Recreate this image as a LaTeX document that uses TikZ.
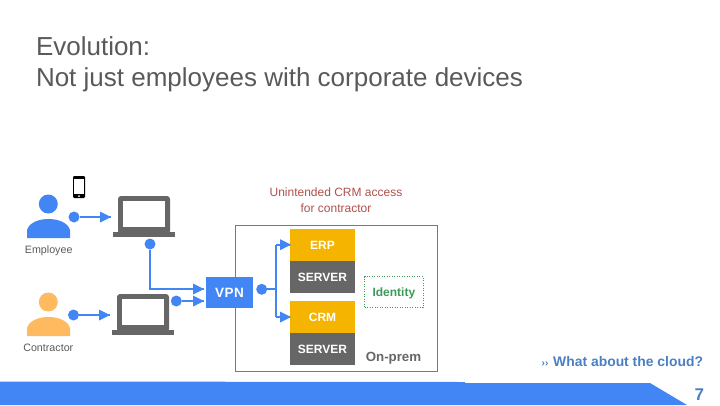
\documentclass[tikz,border=0pt]{standalone}
\usepackage{fontspec}
\setmainfont{Liberation Sans}
\definecolor{gblue}{HTML}{4285F4}
\definecolor{gdark}{HTML}{666666}
\definecolor{gyel}{HTML}{F4B400}
\definecolor{gorange}{HTML}{FFB95E}
\definecolor{ttl}{HTML}{595959}
\definecolor{boxl}{HTML}{4A82C4}
\definecolor{redt}{HTML}{B0504A}
\definecolor{gre}{HTML}{3B9B57}
\definecolor{lnk}{HTML}{4A7FC4}
\tikzset{
  x=1pt,y=-1pt,
  txt/.style={inner sep=0pt,outer sep=0pt,align=center},
  fsz/.style={font=\fontsize{#1}{#1}\selectfont},
  dot/.style={circle,fill=gblue,minimum size=11pt,inner sep=0pt,outer sep=0pt},
  conn/.style={draw=gblue,line width=2pt},
  block/.style={minimum width=65pt,minimum height=32pt,inner sep=0pt,outer sep=0pt,text=white,text height=8.6pt,text depth=0pt,font=\fontsize{12}{12}\selectfont\bfseries},
}
\newcommand{\person}[3]{%
  \fill[#3] (48.3,#1) circle (9.5);
  \fill[#3] (27,#2+19) -- (27,#2+11) .. controls (29,#2+4) and (38,#2) .. (48.5,#2) .. controls (59,#2) and (68,#2+4) .. (70,#2+11) -- (70,#2+19) -- cycle;
}
\newcommand{\laptop}[2]{%
  \fill[gdark,rounded corners=3pt] (#1+5,#2) rectangle (#1+57,#2+38);
  \fill[white] (#1+9.7,#2+4.7) rectangle (#1+52.3,#2+31);
  \fill[gdark] (#1,#2+36) rectangle (#1+62,#2+41);
}
\newcommand{\tip}[2]{\fill[gblue] (#1,#2) -- (#1-11,#2-5.5) -- (#1-11,#2+5.5) -- cycle;}
\begin{document}
\begin{tikzpicture}
\useasboundingbox (0,0) rectangle (720,405);
% footer
\fill[gblue] (0,381.5) -- (465,382) -- (465,383) -- (650,383) -- (687,405) -- (0,405) -- cycle;
% title
\node[txt,anchor=base west,fsz=26,text=ttl] (t1) at (36,55) {Evolution:};
\node[txt,anchor=base west,fsz=26,text=ttl] (t2) at (36,86) {Not just employees with corporate devices};
% phone
\fill[black,rounded corners=1.2pt] (73,176) rectangle (85,198);
\fill[white] (74.3,179) rectangle (83.7,194.3);
\fill[white] (79,196.1) circle (1);
% people
\person{204}{219}{gblue}
\person{302}{317}{gorange}
\node[txt,fsz=10.7,text=ttl,anchor=base] (emp) at (48.7,253) {Employee};
\node[txt,fsz=10.7,text=ttl,anchor=base] (con) at (48.3,351) {Contractor};
% laptops
\laptop{113}{196}
\laptop{112}{294}
\coordinate (lap1) at (111,217);
\coordinate (lap2) at (110,315);
% on-prem box
\node[draw=boxl,line width=1pt,minimum width=201.5pt,minimum height=146.5pt,inner sep=0pt,anchor=north west] (onprem) at (235.3,224.7) {};
% VPN
\node[fill=gblue,text=white,minimum width=47pt,minimum height=31pt,inner sep=0pt,outer sep=0pt,anchor=north west,text height=9.4pt,text depth=0pt,font=\fontsize{13.5}{13.5}\selectfont\bfseries] (vpn) at (206,277) {V\kern.4pt P\kern.4pt N};
% blocks
\node[block,fill=gyel,anchor=north west] (erp) at (290,229) {ERP};
\node[block,fill=gdark,anchor=north west] (s1) at (290,261) {SERVER};
\node[block,fill=gyel,anchor=north west,text=white] (crm) at (290,301) {CRM};
\node[block,fill=gdark,anchor=north west] (s2) at (290,333) {SERVER};
% identity
\node[draw=gre,dashed,dash pattern=on 1pt off 1.5pt,line width=.7pt,minimum width=58.5pt,minimum height=31pt,inner sep=0pt,anchor=north west,text=gre,text height=8.6pt,text depth=0pt,font=\fontsize{12}{12}\selectfont\bfseries] (idn) at (364.3,276.2) {Identity};
\node[txt,anchor=base,font=\fontsize{13.3}{13.3}\selectfont\bfseries,text=gdark] (op) at (393.5,361.5) {On-prem};
% caption
\node[txt,anchor=base,fsz=12,text=redt] (c1) at (336,196) {Unintended CRM access};
\node[txt,anchor=base,fsz=12,text=redt] (c2) at (336,212) {for contractor};
% dots
\node[dot] (d1) at (74,217) {};
\node[dot] (d2) at (73.5,315) {};
\node[dot] (d3) at (150,244) {};
\node[dot] (d4) at (176.3,301) {};
\node[dot] (d5) at (261.7,289.3) {};
\coordinate (vj) at (276,289.3);
\coordinate (ve) at (276,244.7);
\coordinate (vc) at (276,317);
\coordinate (a3) at (150,289);
\coordinate (a3e) at (204,289);
\coordinate (a4e) at (204,301);
% connectors
\draw[conn] (d1) -- (lap1);
\draw[conn] (d2) -- (lap2);
\draw[conn] (d3) -- (a3) -- (a3e);
\draw[conn] (d4) -- (a4e);
\draw[conn] (d5) -- (vj);
\draw[conn] (ve) -- (vc);
\draw[conn] (ve) -- (erp.west |- ve);
\draw[conn] (vc) -- (crm.west |- vc);
\tip{111}{217}
\tip{110}{315}
\tip{204}{289}
\tip{204}{301}
\tip{291}{244.7}
\tip{291}{317}
% footer text
\node[txt,anchor=base east,text=lnk,font=\fontsize{13.9}{13.9}\selectfont\bfseries] (w) at (703,366) {{\fontsize{10}{10}\selectfont ››\kern1pt} What about the cloud?};
\node[txt,anchor=base east,text=lnk,font=\fontsize{17}{17}\selectfont\bfseries] (pg) at (704,400) {7};
\end{tikzpicture}
\end{document}
